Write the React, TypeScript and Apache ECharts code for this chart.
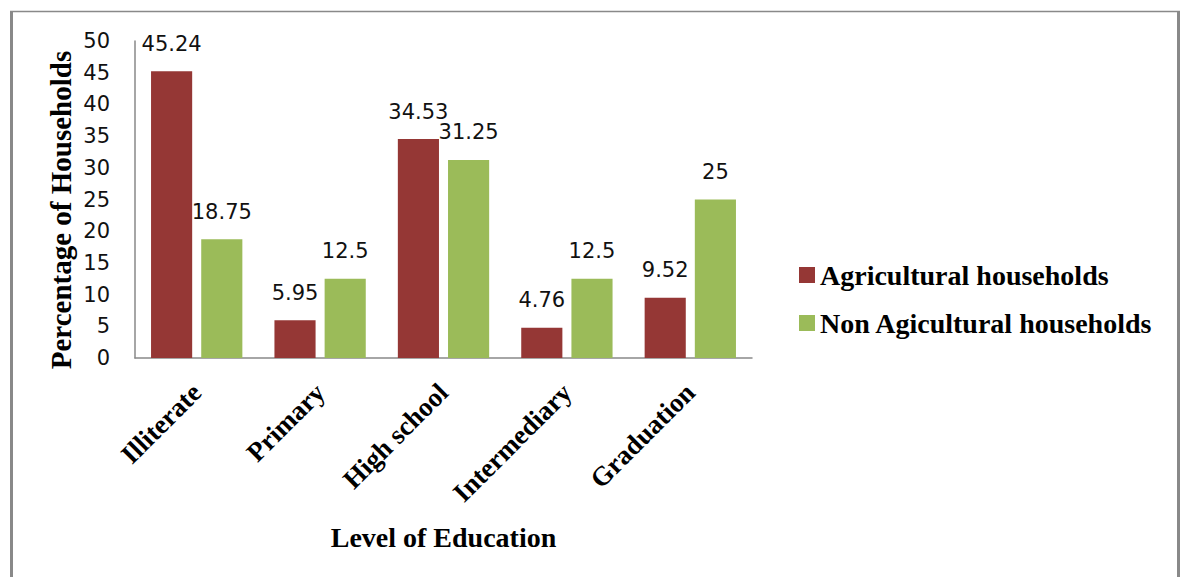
import React, { useEffect, useRef } from "react";
import * as echarts from "echarts";

const categories = ["Illiterate", "Primary", "High school", "Intermediary", "Graduation"];
const agricultural = [45.24, 5.95, 34.53, 4.76, 9.52];
const nonAgricultural = [18.75, 12.5, 31.25, 12.5, 25];
const seriesNames = ["Agricultural households", "Non Agicultural households"];
const yTicks = { min: 0, max: 50, interval: 5 };

const RED = "#953735";
const GREEN = "#9BBB59";
const FRAME = "#898989";
const SERIF = "'Liberation Serif', 'Times New Roman', serif";
const SANS = "'DejaVu Sans', sans-serif";

export default function App() {
  const ref = useRef<HTMLDivElement>(null);

  useEffect(() => {
    if (!ref.current) return;
    const chart = echarts.init(ref.current, null, { renderer: "svg" });

    const valueLabel = {
      show: true,
      position: "top" as const,
      distance: 17,
      fontFamily: SANS,
      fontSize: 21,
      color: "#111",
    };

    chart.setOption({
      animation: false,
      backgroundColor: "#fff",
      grid: { left: 135, top: 41, right: 430, bottom: 219, containLabel: false },
      legend: {
        orient: "vertical",
        left: 794,
        top: 256,
        icon: "rect",
        itemWidth: 16,
        itemHeight: 16,
        itemGap: 20,
        textStyle: {
          fontFamily: SERIF,
          fontWeight: "bold",
          fontSize: 28,
          lineHeight: 28,
          color: "#000",
        },
        data: seriesNames,
      },
      xAxis: {
        type: "category",
        data: categories,
        name: "Level of Education",
        nameLocation: "middle",
        nameGap: 165,
        nameTextStyle: { fontFamily: SERIF, fontWeight: "bold", fontSize: 28, color: "#000" },
        axisLine: { lineStyle: { color: FRAME, width: 1.5 } },
        axisTick: { show: false },
        axisLabel: {
          rotate: 45,
          margin: 30,
          interval: 0,
          fontFamily: SERIF,
          fontWeight: "bold",
          fontSize: 27,
          color: "#000",
        },
      },
      yAxis: {
        type: "value",
        min: yTicks.min,
        max: yTicks.max,
        interval: yTicks.interval,
        axisLine: { show: true, lineStyle: { color: FRAME, width: 1.5 } },
        axisTick: { show: false },
        splitLine: { show: false },
        axisLabel: { margin: 25, fontFamily: SANS, fontSize: 21, color: "#111" },
      },
      series: [
        {
          name: seriesNames[0],
          type: "bar",
          data: agricultural,
          itemStyle: { color: RED },
          barGap: "22%",
          barCategoryGap: "26%",
          label: valueLabel,
        },
        {
          name: seriesNames[1],
          type: "bar",
          data: nonAgricultural,
          itemStyle: { color: GREEN },
          barGap: "22%",
          barCategoryGap: "26%",
          label: valueLabel,
        },
      ],
      graphic: [
        {
          type: "text",
          x: 61,
          y: 210,
          rotation: Math.PI / 2,
          style: {
            text: "Percentage of Households",
            font: `bold 29px ${SERIF}`,
            fill: "#000",
            align: "center",
            verticalAlign: "middle",
          },
        },
        { type: "line", shape: { x1: 11.5, y1: 11, x2: 11.5, y2: 580 }, style: { stroke: FRAME, lineWidth: 3 } },
        { type: "line", shape: { x1: 10, y1: 11.5, x2: 1180, y2: 11.5 }, style: { stroke: FRAME, lineWidth: 1.5 } },
        { type: "line", shape: { x1: 1178.5, y1: 11, x2: 1178.5, y2: 580 }, style: { stroke: FRAME, lineWidth: 3 } },
      ],
    });

    return () => chart.dispose();
  }, []);

  return (
    <div style={{ position: "fixed", left: 0, top: 0, width: 1182, height: 577, background: "#fff" }}>
      <div ref={ref} style={{ width: 1182, height: 577 }} />
    </div>
  );
}
